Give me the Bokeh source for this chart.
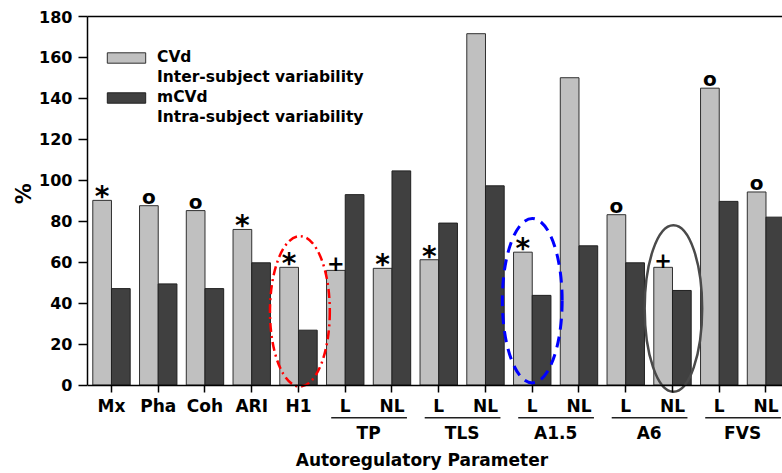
from bokeh.plotting import figure
from bokeh.models import (FixedTicker, LinearAxis, Range1d, Legend, LegendItem,
                          ColumnDataSource)
from bokeh.core.properties import value
from bokeh.embed import file_html
from bokeh.resources import INLINE

# ---------------- data ----------------
tick_labels = ["Mx", "Pha", "Coh", "ARI", "H1", "L", "NL", "L", "NL",
               "L", "NL", "L", "NL", "L", "NL"]
cvd = [90.2, 87.6, 85.2, 76.0, 57.5, 56.0, 57.0, 61.2, 171.6,
       64.9, 150.1, 83.2, 57.5, 145.0, 94.3]
mcvd = [47.1, 49.4, 47.1, 59.7, 26.8, 93.0, 104.6, 79.1, 97.3,
        43.8, 68.0, 59.7, 46.2, 89.7, 82.0]
marks = ["*", "o", "o", "*", "*", "+", "*", "*", "", "*", "", "o", "+", "o", "o"]
groups = ["TP", "TLS", "A1.5", "A6", "FVS"]
group_first = [5, 7, 9, 11, 13]
y_ticks = [0, 20, 40, 60, 80, 100, 120, 140, 160, 180]

FONT = "DejaVu Sans"
LIGHT = "#c0c0c0"
DARK = "#404040"

xs = list(range(len(tick_labels)))

p = figure(width=782, height=473, output_backend="svg", toolbar_location=None,
           x_range=Range1d(-0.513, 14.353), y_range=Range1d(-43.2, 180),
           x_axis_location=None, y_axis_location="left",
           min_border_left=87, min_border_right=0, min_border_top=16,
           min_border_bottom=0, outline_line_color=None,
           background_fill_color="white", border_fill_color="white")
p.grid.visible = False

# bars
src = ColumnDataSource(dict(x=xs, cvd=cvd, mcvd=mcvd,
                            xl=[x - 0.2 for x in xs], xd=[x + 0.2 for x in xs]))
r1 = p.vbar(x="xl", top="cvd", width=0.4, source=src, fill_color=LIGHT,
            line_color="#303030", line_width=1)
r2 = p.vbar(x="xd", top="mcvd", width=0.4, source=src, fill_color=DARK,
            line_color="#202020", line_width=1)
blank = p.vbar(x=[], top=[], width=0.4, fill_alpha=0, line_alpha=0)

# significance marks
mark_style = {"*": (28, -3.5), "o": (20, -9), "+": (21, -7)}
for m, (fs, yoff) in mark_style.items():
    idx = [i for i, mm in enumerate(marks) if mm == m]
    p.text(x=[xs[i] - 0.2 for i in idx], y=[cvd[i] for i in idx],
           text=[m] * len(idx), text_font=value(FONT), text_font_style="bold",
           text_font_size=f"{fs}px", text_align="center",
           text_baseline="middle", y_offset=yoff, text_color="black")

# highlight ellipses
p.ellipse(x=4.03, y=36.0, width=1.28, height=73.5, fill_color=None,
          line_color="#ff0000", line_width=2.5, line_dash="9 4 2 4")
p.ellipse(x=9.0, y=41.2, width=1.28, height=80.3, fill_color=None,
          line_color="#0000ff", line_width=3, line_dash="11 7")
p.ellipse(x=12.02, y=37.4, width=1.23, height=81.3, fill_color=None,
          line_color="#4a4a4a", line_width=2.5)

# y axis
yax = p.yaxis[0]
yax.bounds = (0, 180)
yax.ticker = FixedTicker(ticks=y_ticks)
yax.axis_label = "\u00a0" * 14 + "%"
yax.axis_label_text_font = FONT
yax.axis_label_text_font_style = "bold"
yax.axis_label_text_font_size = "21px"
yax.axis_label_text_color = "black"
yax.axis_label_standoff = 0
yax.major_label_text_font = FONT
yax.major_label_text_font_style = "bold"
yax.major_label_text_font_size = "16px"
yax.major_label_text_color = "black"
yax.major_label_standoff = 6
yax.major_tick_out = 9
yax.major_tick_in = 0
yax.minor_tick_out = 0
yax.minor_tick_in = 0
yax.axis_line_width = 1.5
yax.major_tick_line_width = 1.5

# x axis at y = 0
xax = LinearAxis(fixed_location=0, ticker=FixedTicker(ticks=xs),
                 major_label_overrides={i: t for i, t in enumerate(tick_labels)})
xax.major_label_text_font = FONT
xax.major_label_text_font_style = "bold"
xax.major_label_text_font_size = "17px"
xax.major_label_text_color = "black"
xax.major_label_standoff = 4
xax.major_tick_out = 7
xax.major_tick_in = 0
xax.minor_tick_out = 0
xax.minor_tick_in = 0
xax.axis_line_width = 1.5
xax.major_tick_line_width = 1.5
p.add_layout(xax, "below")

# top frame line
tax = LinearAxis(ticker=FixedTicker(ticks=[]), major_label_text_font_size="0px",
                 major_tick_out=0, major_tick_in=0, minor_tick_out=0, minor_tick_in=0,
                 axis_line_width=1.5)
p.add_layout(tax, "above")

# group labels and underlines
gmid = [f + 0.5 for f in group_first]
p.segment(x0=[f - 0.3 for f in group_first], x1=[f + 1.32 for f in group_first],
          y0=[-16.0] * len(groups), y1=[-16.0] * len(groups),
          line_color="#202020", line_width=1.5)
p.text(x=gmid, y=[-23.4] * len(groups), text=groups, text_font=value(FONT),
       text_font_style="bold", text_font_size="17px", text_align="center",
       text_baseline="middle", text_color="black")
p.text(x=[6.64], y=[-36.8], text=["Autoregulatory Parameter"], text_font=value(FONT),
       text_font_style="bold", text_font_size="17px", text_align="center",
       text_baseline="middle", text_color="black")

# legend
legend = Legend(items=[LegendItem(label="CVd", renderers=[r1]),
                       LegendItem(label="Inter-subject variability", renderers=[blank]),
                       LegendItem(label="mCVd", renderers=[r2]),
                       LegendItem(label="Intra-subject variability", renderers=[blank])],
                location=(15, 346), glyph_width=48, glyph_height=13,
                label_text_font=FONT, label_text_font_style="bold",
                label_text_font_size="15.5px", label_text_color="black",
                label_height=20, label_standoff=7,
                background_fill_alpha=0, border_line_color=None,
                margin=0, padding=0, spacing=0)
p.add_layout(legend)

open("out.html", "w").write(file_html(p, INLINE))
